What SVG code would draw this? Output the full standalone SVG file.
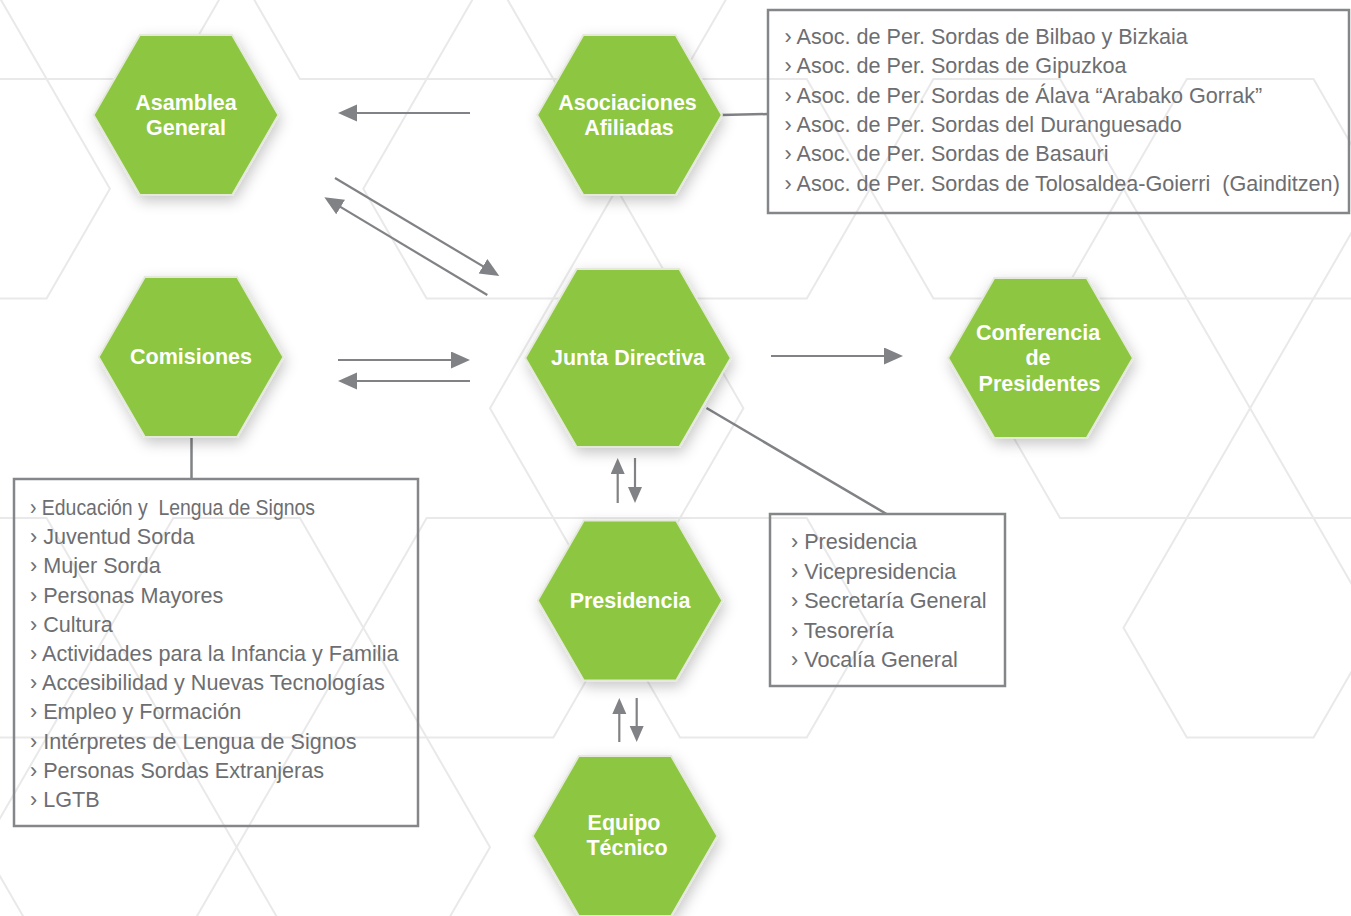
<svg xmlns="http://www.w3.org/2000/svg" xmlns:xlink="http://www.w3.org/1999/xlink" width="1351" height="916" viewBox="0 0 1351 916">
  <defs>
    <style>
      .bg { fill: none; stroke: #e9e9e9; stroke-width: 2; }
      .hex { fill: #8dc63f; stroke: #e4e9dc; stroke-width: 2; filter: url(#shadow); }
      .hl { font-family: "Liberation Sans", Arial, sans-serif; font-weight: bold; font-size: 21.5px; fill: #ffffff; text-anchor: middle; }
      .li { font-family: "Liberation Sans", Arial, sans-serif; font-size: 21.6px; fill: #6d6e71; }
      .box { fill: none; stroke: #858689; stroke-width: 2.5; }
      .link { fill: none; stroke: #808285; stroke-width: 2.5; }
      .arr { fill: none; stroke: #808285; stroke-width: 2.2; marker-end: url(#ah); }
      .arrs { fill: none; stroke: #808285; stroke-width: 2.2; marker-end: url(#ahs); }
    </style>
    <filter id="shadow" x="-30%" y="-30%" width="160%" height="160%">
      <feDropShadow dx="2" dy="5" stdDeviation="7" flood-color="#000000" flood-opacity="0.22"/>
    </filter>
    <marker id="ah" markerUnits="userSpaceOnUse" markerWidth="20" markerHeight="18" refX="9" refY="8.5" orient="auto">
      <path d="M0,0 L19,8.5 L0,17 Z" fill="#808285"/>
    </marker>
    <marker id="ahs" markerUnits="userSpaceOnUse" markerWidth="17" markerHeight="15" refX="7" refY="7" orient="auto">
      <path d="M0,0 L16,7 L0,14 Z" fill="#808285"/>
    </marker>
    <polygon id="bgHex" class="bg" points="-126.7,0 -63.35,-109.75 63.35,-109.75 126.7,0 63.35,109.75 -63.35,109.75"/>
  </defs>

  <rect x="0" y="0" width="1351" height="916" fill="#ffffff"/>

  <!-- background hexagon pattern -->
  <g id="background">
    <use href="#bgHex" x="110" y="-30.75"/>
    <use href="#bgHex" x="363.3" y="-30.75"/>
    <use href="#bgHex" x="616.7" y="-30.75"/>
    <use href="#bgHex" x="-16.8" y="188.75"/>
    <use href="#bgHex" x="490" y="188.75"/>
    <use href="#bgHex" x="743.4" y="188.75"/>
    <use href="#bgHex" x="996.8" y="188.75"/>
    <use href="#bgHex" x="1250.2" y="188.75"/>
    <use href="#bgHex" x="616.7" y="408.25"/>
    <use href="#bgHex" x="1123.4" y="408.25"/>
    <use href="#bgHex" x="1376.8" y="408.25"/>
    <use href="#bgHex" x="-16.8" y="627.75"/>
    <use href="#bgHex" x="236.6" y="627.75"/>
    <use href="#bgHex" x="490" y="627.75"/>
    <use href="#bgHex" x="743.4" y="627.75"/>
    <use href="#bgHex" x="1250.2" y="627.75"/>
    <use href="#bgHex" x="110" y="847.25"/>
    <use href="#bgHex" x="363.3" y="847.25"/>
  </g>

  <!-- connectors -->
  <g id="connectors">
    <line class="arr" x1="470" y1="113" x2="348" y2="113"/>
    <line class="arr" x1="335" y1="178" x2="490.7" y2="270.9"/>
    <line class="arr" x1="487.3" y1="295" x2="332.9" y2="202.4"/>
    <line class="arr" x1="338" y1="360" x2="460" y2="360"/>
    <line class="arr" x1="470" y1="381" x2="348" y2="381"/>
    <line class="arr" x1="771" y1="356" x2="893" y2="356"/>
    <line class="arrs" x1="617.7" y1="503" x2="617.7" y2="467"/>
    <line class="arrs" x1="635" y1="458" x2="635" y2="494"/>
    <line class="arrs" x1="619.3" y1="742" x2="619.3" y2="707"/>
    <line class="arrs" x1="636.7" y1="698" x2="636.7" y2="733"/>
    <line class="link" x1="721" y1="115" x2="768" y2="114"/>
    <line class="link" x1="191.5" y1="438" x2="191.5" y2="479"/>
    <line class="link" x1="706.5" y1="408" x2="886.5" y2="514"/>
  </g>

  <!-- nodes -->
  <g id="asamblea-general" transform="translate(186,115)">
    <polygon class="hex" points="-92.4,0 -46.2,-80 46.2,-80 92.4,0 46.2,80 -46.2,80"/>
    <text class="hl" x="0" y="-5.5">Asamblea</text>
    <text class="hl" x="0" y="20">General</text>
  </g>

  <g id="asociaciones-afiliadas" transform="translate(629.5,115)">
    <polygon class="hex" points="-92.4,0 -46.2,-80 46.2,-80 92.4,0 46.2,80 -46.2,80"/>
    <text class="hl" x="-2" y="-5.5">Asociaciones</text>
    <text class="hl" x="-0.5" y="20">Afiliadas</text>
  </g>

  <g id="comisiones" transform="translate(191,357)">
    <polygon class="hex" points="-92.4,0 -46.2,-80 46.2,-80 92.4,0 46.2,80 -46.2,80"/>
    <text class="hl" x="0" y="7">Comisiones</text>
  </g>

  <g id="junta-directiva" transform="translate(628,358)">
    <polygon class="hex" points="-102.8,0 -51.4,-89 51.4,-89 102.8,0 51.4,89 -51.4,89"/>
    <text class="hl" x="0" y="7">Junta Directiva</text>
  </g>

  <g id="conferencia-presidentes" transform="translate(1040.5,358)">
    <polygon class="hex" points="-92.4,0 -46.2,-80 46.2,-80 92.4,0 46.2,80 -46.2,80"/>
    <text class="hl" x="-2.5" y="-18">Conferencia</text>
    <text class="hl" x="-2.5" y="7.3">de</text>
    <text class="hl" x="-1" y="32.7">Presidentes</text>
  </g>

  <g id="presidencia" transform="translate(630,600.5)">
    <polygon class="hex" points="-92.4,0 -46.2,-80 46.2,-80 92.4,0 46.2,80 -46.2,80"/>
    <text class="hl" x="0" y="7.8">Presidencia</text>
  </g>

  <g id="equipo-tecnico" transform="translate(625,836)">
    <polygon class="hex" points="-92.4,0 -46.2,-80 46.2,-80 92.4,0 46.2,80 -46.2,80"/>
    <text class="hl" x="-1" y="-6">Equipo</text>
    <text class="hl" x="2" y="19.3">Técnico</text>
  </g>

  <g id="asociaciones-lista">
    <rect class="box" x="768" y="10" width="581" height="203"/>
    <text class="li" x="784.5" y="44">› Asoc. de Per. Sordas de Bilbao y Bizkaia</text>
    <text class="li" x="784.5" y="73.3">› Asoc. de Per. Sordas de Gipuzkoa</text>
    <text class="li" x="784.5" y="102.6">› Asoc. de Per. Sordas de Álava “Arabako Gorrak”</text>
    <text class="li" x="784.5" y="131.9">› Asoc. de Per. Sordas del Duranguesado</text>
    <text class="li" x="784.5" y="161.2">› Asoc. de Per. Sordas de Basauri</text>
    <text class="li" x="784.5" y="190.5">› Asoc. de Per. Sordas de Tolosaldea-Goierri&#160; (Gainditzen)</text>
  </g>

  <g id="comisiones-lista">
    <rect class="box" x="14" y="479" width="404" height="347"/>
    <text class="li" x="30" y="515" textLength="285" lengthAdjust="spacingAndGlyphs">› Educación y&#160; Lengua de Signos</text>
    <text class="li" x="30" y="544.2">› Juventud Sorda</text>
    <text class="li" x="30" y="573.4">› Mujer Sorda</text>
    <text class="li" x="30" y="602.6">› Personas Mayores</text>
    <text class="li" x="30" y="631.8">› Cultura</text>
    <text class="li" x="30" y="661">› Actividades para la Infancia y Familia</text>
    <text class="li" x="30" y="690.2">› Accesibilidad y Nuevas Tecnologías</text>
    <text class="li" x="30" y="719.4">› Empleo y Formación</text>
    <text class="li" x="30" y="748.6">› Intérpretes de Lengua de Signos</text>
    <text class="li" x="30" y="777.8">› Personas Sordas Extranjeras</text>
    <text class="li" x="30" y="807">› LGTB</text>
  </g>

  <g id="junta-lista">
    <rect class="box" x="770" y="514" width="235" height="172"/>
    <text class="li" x="791" y="549">› Presidencia</text>
    <text class="li" x="791" y="578.5">› Vicepresidencia</text>
    <text class="li" x="791" y="608">› Secretaría General</text>
    <text class="li" x="791" y="637.5">› Tesorería</text>
    <text class="li" x="791" y="667">› Vocalía General</text>
  </g>
</svg>
